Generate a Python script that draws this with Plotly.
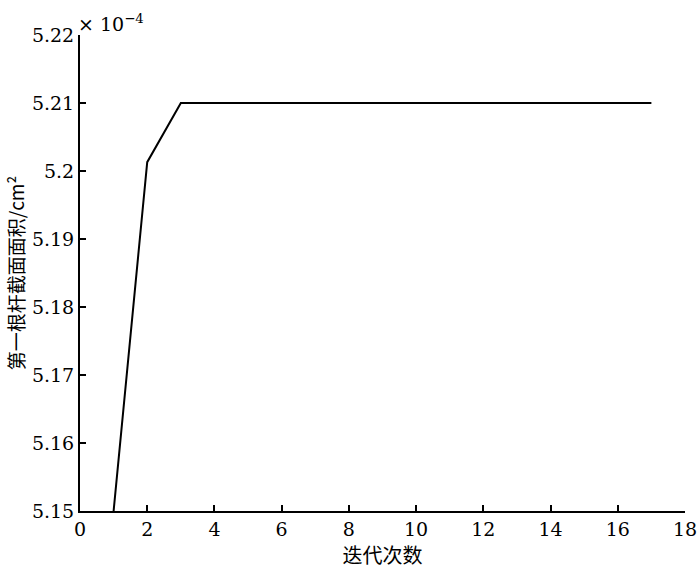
import plotly.graph_objects as go

iterations = [1, 2, 3, 4, 5, 6, 7, 8, 9, 10, 11, 12, 13, 14, 15, 16, 17]
area = [5.150, 5.2013, 5.210, 5.210, 5.210, 5.210, 5.210, 5.210, 5.210,
        5.210, 5.210, 5.210, 5.210, 5.210, 5.210, 5.210, 5.210]
y_tickvals = [5.15, 5.16, 5.17, 5.18, 5.19, 5.20, 5.21, 5.22]
y_ticktext = ["5.15", "5.16", "5.17", "5.18", "5.19", "5.2", "5.21", "5.22"]
x_tickvals = [0, 2, 4, 6, 8, 10, 12, 14, 16, 18]

serif = "DejaVu Serif"
cjk = "Noto Sans CJK SC"

fig = go.Figure()
fig.add_trace(go.Scatter(x=iterations, y=area, mode="lines",
                         line=dict(color="black", width=2), showlegend=False))

fig.update_layout(
    width=700, height=575,
    margin=dict(l=80, r=15, t=35, b=64, autoexpand=False),
    plot_bgcolor="white", paper_bgcolor="white",
    xaxis=dict(range=[0, 18], tickvals=x_tickvals, ticks="inside", ticklen=6,
               tickwidth=1.5, tickcolor="black", showline=True, linecolor="black",
               linewidth=2, showgrid=False, zeroline=False, automargin=False,
               tickfont=dict(family=serif, size=19, color="black"),
               title=dict(text="迭代次数", font=dict(family=cjk, size=20, color="black"),
                          standoff=4)),
    yaxis=dict(range=[5.15, 5.22], tickvals=y_tickvals, ticktext=y_ticktext,
               ticks="inside", ticklen=6, tickwidth=1.5, tickcolor="black",
               showline=True, linecolor="black", linewidth=2, showgrid=False,
               zeroline=False, automargin=False,
               tickfont=dict(family=serif, size=19, color="black"),
               title=dict(text="第一根杆截面面积/cm²",
                          font=dict(family=cjk, size=19, color="black"),
                          standoff=2)),
)
fig.add_annotation(text="× 10<sup>−4</sup>", xref="paper", yref="paper",
                   x=0.0, y=1.0, xanchor="left", yanchor="bottom", showarrow=False,
                   font=dict(family=serif, size=19, color="black"), xshift=-4, yshift=-2)

fig.write_html("out.html", config={"displayModeBar": False},
               post_script="document.body.style.margin='0';document.body.style.overflow='hidden';")
